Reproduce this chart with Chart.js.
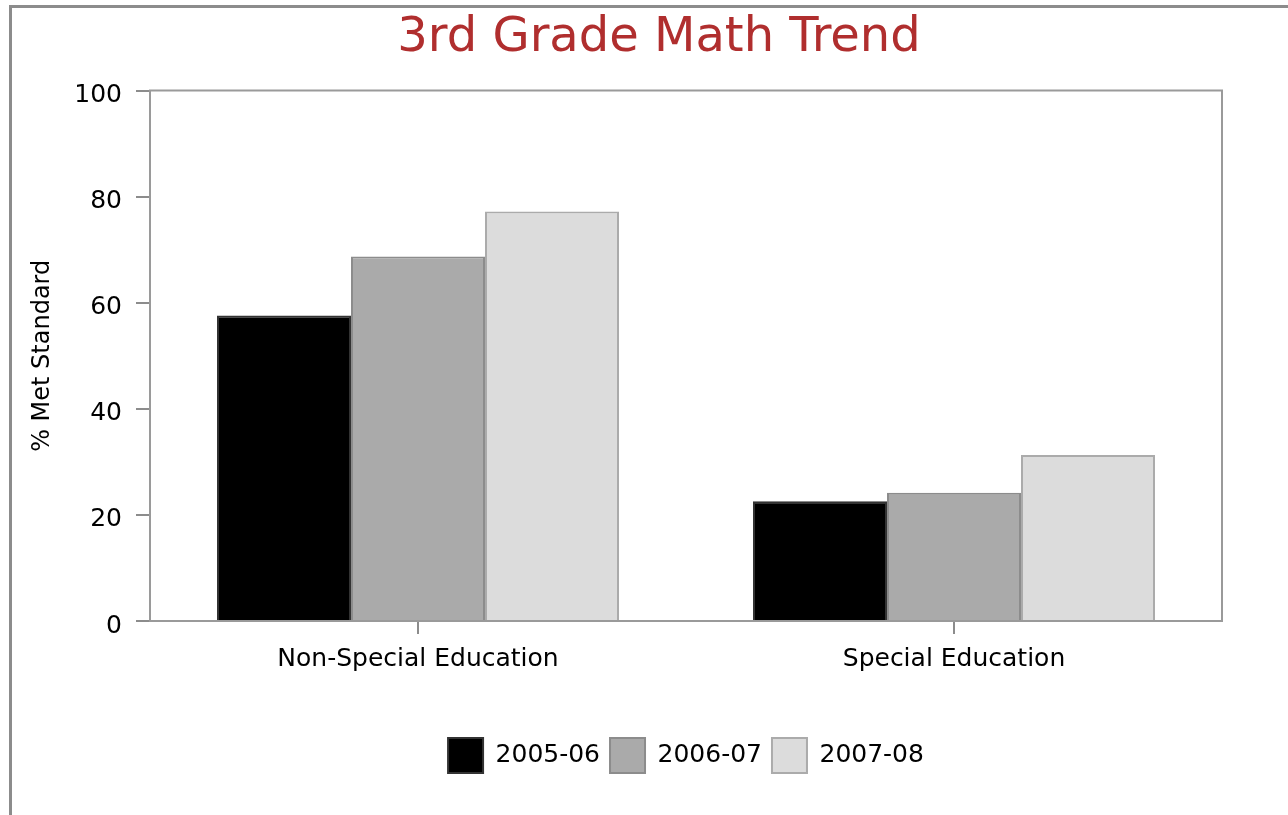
<!DOCTYPE html>
<html>
<head>
<meta charset="utf-8">
<script src="https://cdn.jsdelivr.net/npm/chart.js@4/dist/chart.umd.min.js"></script>
<style>
  html, body { margin: 0; padding: 0; background: #ffffff; overflow: hidden; width: 1288px; height: 815px; }
  #frame { position: absolute; left: 9px; top: 5px; width: 1400px; height: 900px;
           border-left: 3px solid #8c8c8c; border-top: 3px solid #8c8c8c; }
  #wrap { position: absolute; left: 12px; top: 8px; width: 1294px; height: 807px; }
</style>
</head>
<body>
<div id="frame"></div>
<div id="wrap"><canvas id="c" width="1294" height="807"></canvas></div>
<script>
const categories = ["Non-Special Education", "Special Education"];
const seriesNames = ["2005-06", "2006-07", "2007-08"];
const values2005 = [57.6, 22.6];
const values2006 = [68.7, 24.2];
const values2007 = [77.2, 31.3];
const yTicks = [0, 20, 40, 60, 80, 100];

const fills = ["#000000", "#aaaaaa", "#dcdcdc"];
const edges = ["#333333", "#8c8c8c", "#ababab"];

const frameBox = {
  id: 'frameBox',
  afterLayout(chart) {
    // the title is centred on the full original image width
    chart.titleBlock.left = 0;
    chart.titleBlock.right = chart.width;
  },
  afterDatasetsDraw(chart) {
    const a = chart.chartArea, ctx = chart.ctx;
    ctx.save();
    ctx.strokeStyle = '#9a9a9a';
    ctx.lineWidth = 2;
    ctx.beginPath();
    ctx.moveTo(a.left, a.bottom);
    ctx.lineTo(a.left, a.top);
    ctx.lineTo(a.right, a.top);
    ctx.lineTo(a.right, a.bottom);
    ctx.stroke();
    ctx.restore();
  }
};

const font = "'DejaVu Sans', sans-serif";

new Chart(document.getElementById('c'), {
  type: 'bar',
  data: {
    labels: categories,
    datasets: [values2005, values2006, values2007].map((v, i) => ({
      label: seriesNames[i],
      data: v,
      backgroundColor: fills[i],
      borderColor: edges[i],
      borderWidth: 2,
      barPercentage: 1.0,
      categoryPercentage: 0.75
    }))
  },
  options: {
    responsive: false,
    animation: false,
    events: [],
    layout: { padding: { left: 0, right: 84, top: 0, bottom: 32 } },
    plugins: {
      title: {
        display: true,
        text: "3rd Grade Math Trend",
        color: "#b02e2e",
        font: { family: font, size: 48, weight: 'normal' },
        padding: { top: 2, bottom: 23 }
      },
      legend: {
        display: true,
        position: 'bottom',
        fullSize: false,
        labels: {
          color: '#000000',
          font: { family: font, size: 25 },
          boxWidth: 35,
          boxHeight: 35,
          padding: 10
        }
      },
      tooltip: { enabled: false }
    },
    scales: {
      x: {
        afterFit(scale) { scale.height = 107; },
        grid: { display: true, offset: false, drawOnChartArea: false, drawTicks: true, tickLength: 13, color: '#8c8c8c', lineWidth: 2 },
        border: { display: true, color: '#9a9a9a', width: 2 },
        ticks: { color: '#000000', font: { family: font, size: 25 }, padding: 10 }
      },
      y: {
        min: 0,
        max: 100,
        afterBuildTicks(scale) { scale.ticks = yTicks.map(v => ({ value: v })); },
        afterFit(scale) { scale.width = 138; },
        grid: { display: true, drawOnChartArea: false, drawTicks: true, tickLength: 14, color: '#8c8c8c', lineWidth: 2 },
        border: { display: true, color: '#9a9a9a', width: 2 },
        ticks: { color: '#000000', font: { family: font, size: 25 }, padding: 14, labelOffset: 5 },
        title: {
          display: true,
          text: "% Met Standard",
          color: '#000000',
          font: { family: font, size: 24 },
          padding: { top: 16, bottom: 16 }
        }
      }
    }
  },
  plugins: [frameBox]
});
</script>
</body>
</html>
